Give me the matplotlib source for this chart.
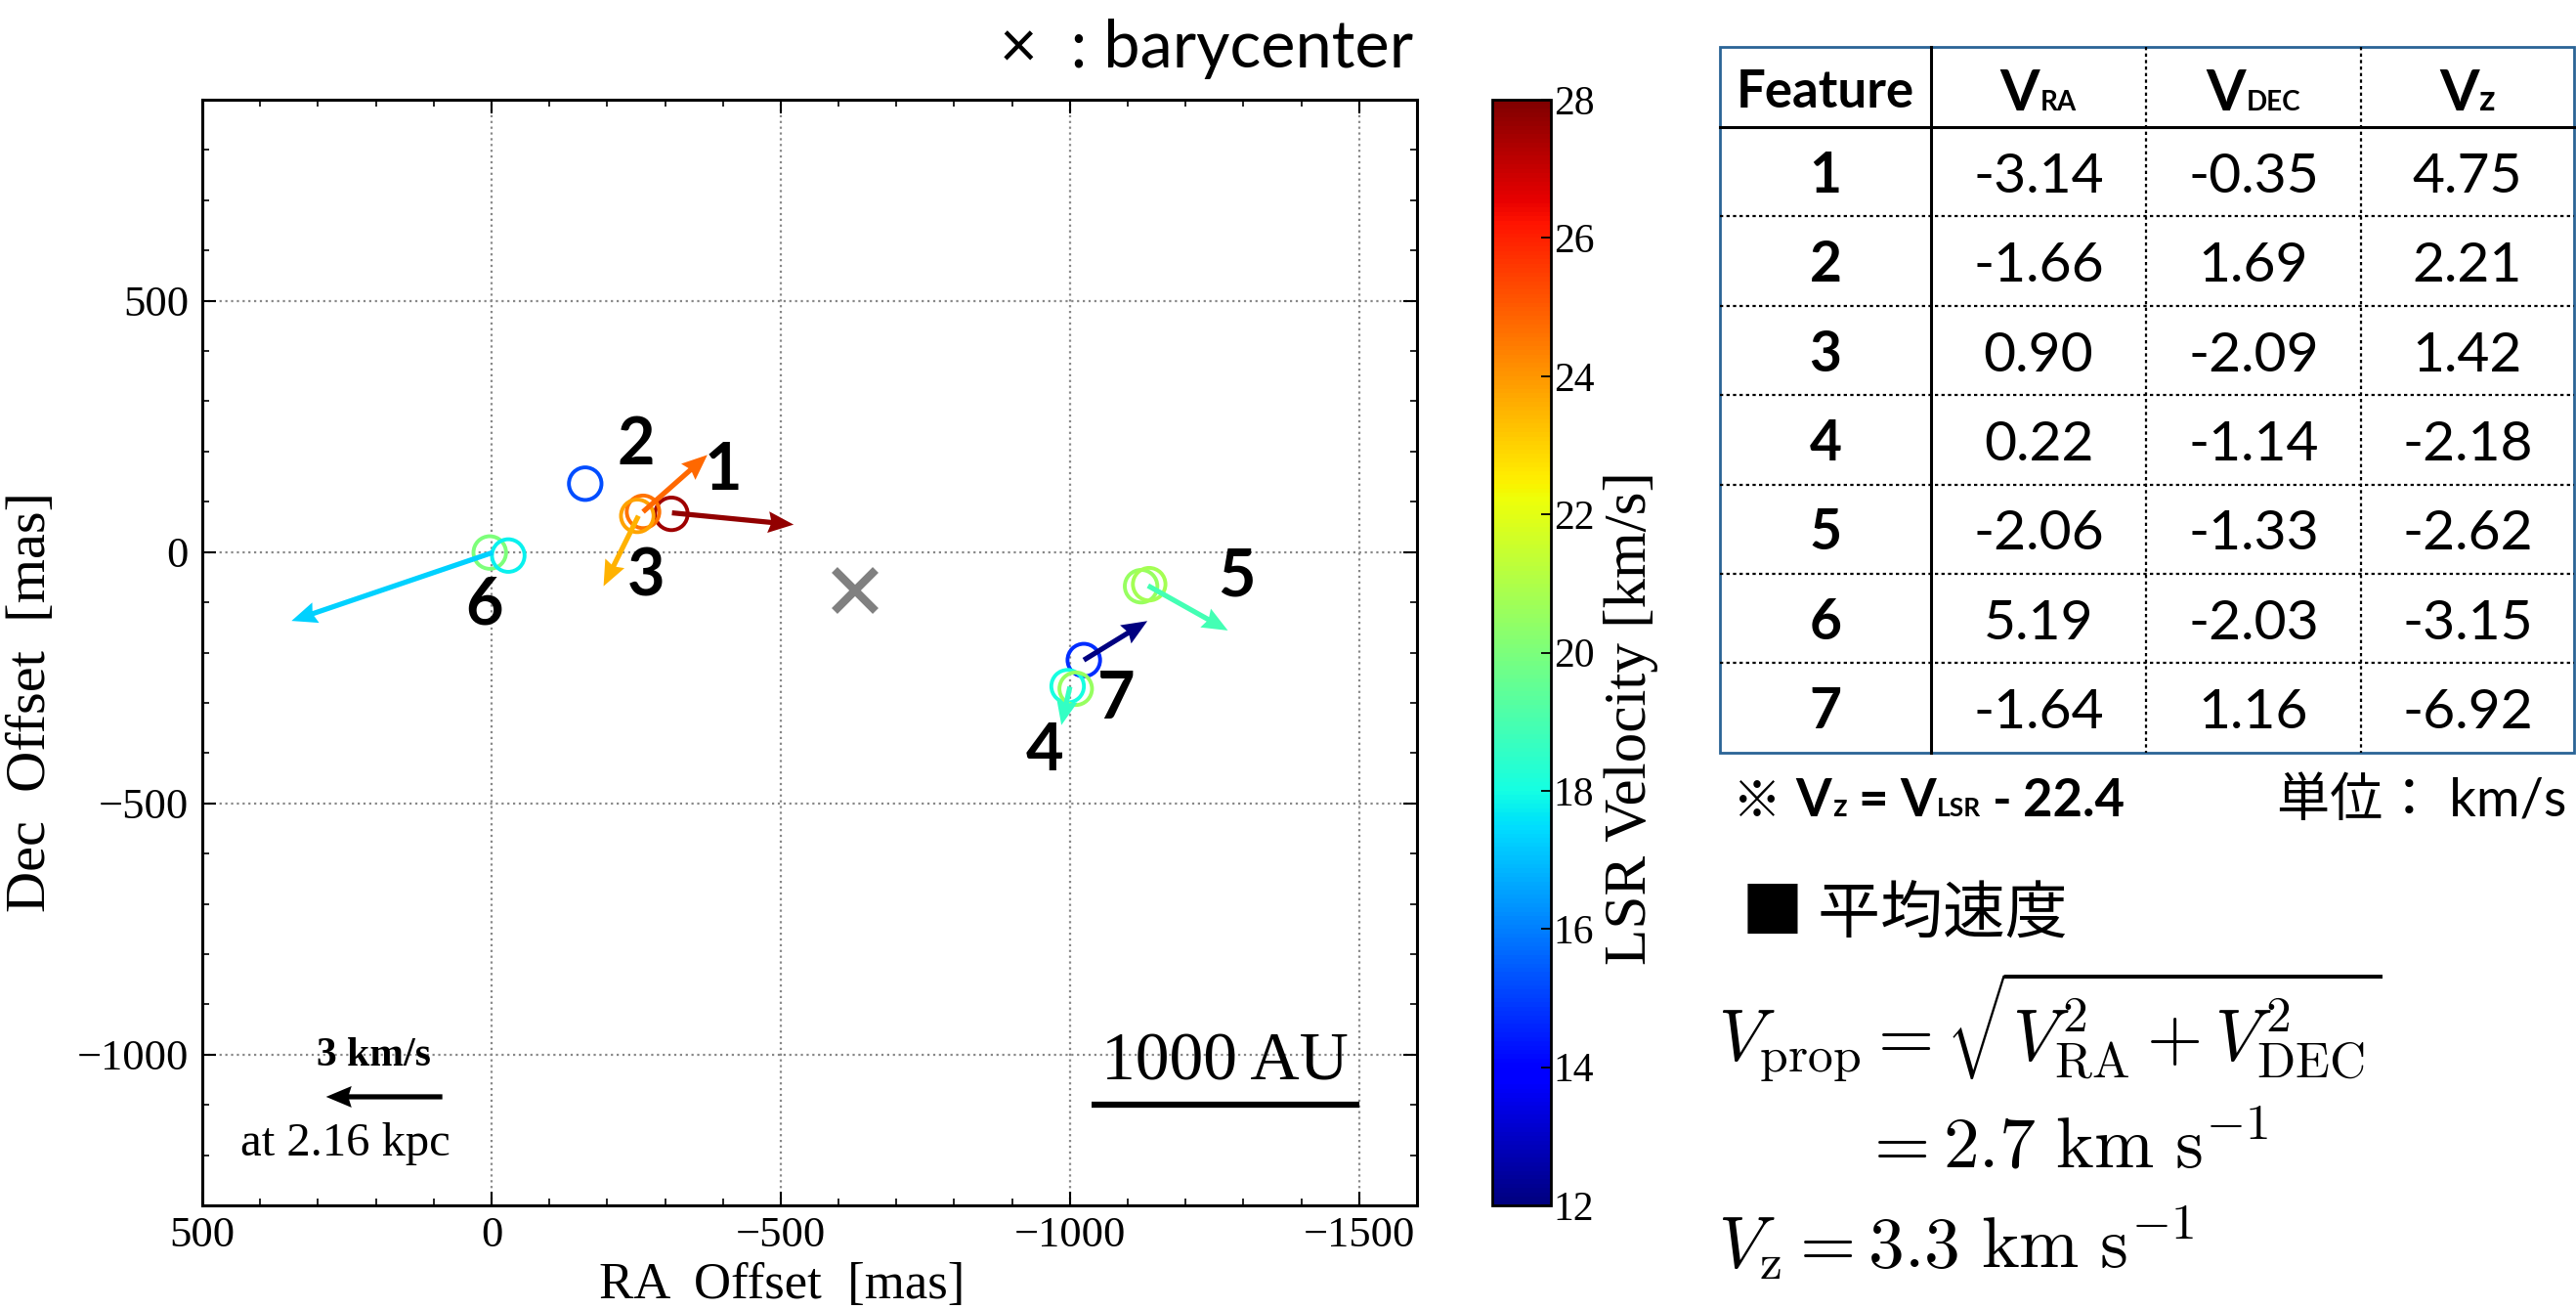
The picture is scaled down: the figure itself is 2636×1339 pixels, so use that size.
import matplotlib
matplotlib.use("Agg")
import matplotlib.pyplot as plt
from matplotlib.patches import Rectangle
from matplotlib.ticker import MultipleLocator
import numpy as np

SERIF = "Liberation Serif"
SANS = ["Lato", "Noto Sans CJK JP", "DejaVu Sans"]
CJK = ["Noto Sans CJK JP", "DejaVu Sans"]
plt.rcParams["font.family"] = SERIF

# proper motions of the features (km/s)
features = [1, 2, 3, 4, 5, 6, 7]
v_ra = [-3.14, -1.66, 0.90, 0.22, -2.06, 5.19, -1.64]
v_dec = [-0.35, 1.69, -2.09, -1.14, -1.33, -2.03, 1.16]
v_z = [4.75, 2.21, 1.42, -2.18, -2.62, -3.15, -6.92]

# arrow origins (mas) and LSR velocity used for the arrow colour
arrow_ra = [-312, -262, -254, -1000, -1135, -2, -1024]
arrow_dec = [78, 80, 72, -268, -67, -1, -215]
arrow_vlsr = [27.7, 24.8, 23.5, 18.6, 18.9, 17.3, 12.0]

# maser spots (open circles)
spot_ra = [-311, -262, -252, -162, 3, -29, -1123, -1137, -1024, -996, -1010]
spot_dec = [76, 80, 72, 136, -1, -7, -68, -64, -215, -267, -272]
spot_vlsr = [27.5, 24.6, 23.8, 15.2, 20.0, 17.8, 20.5, 20.8, 14.7, 18.0, 20.5]

# feature number labels
label_ra = [-400, -250, -268, -957, -1288, 12, -1080]
label_dec = [160, 212, -50, -398, -50, -106, -295]

bary_ra, bary_dec = -629, -76
scale_kms = 3
dist_kpc = 2.16
v_mean_prop = 2.7
v_mean_z = 3.3
vz_offset = 22.4

vmin, vmax = 12, 28
MAS_PER_KMS = 67  # arrow length per km/s

W, H = 2636, 1339
fig = plt.figure(figsize=(W / 100, H / 100), dpi=100)

# overlay in pixel coordinates for the table and the notes
ov = fig.add_axes([0, 0, 1, 1])
ov.set_xlim(0, W)
ov.set_ylim(H, 0)
ov.axis("off")

ax = fig.add_axes([207 / W, 106 / H, 1243 / W, 1131 / H])
cmap = plt.get_cmap("jet")
norm = plt.Normalize(vmin, vmax)

ax.scatter(spot_ra, spot_dec, s=24 ** 2, facecolors="none",
           edgecolors=cmap(norm(spot_vlsr)), linewidths=2.8, zorder=3)
ax.quiver(arrow_ra, arrow_dec,
          np.array(v_ra) * MAS_PER_KMS, np.array(v_dec) * MAS_PER_KMS,
          color=cmap(norm(arrow_vlsr)), angles="xy", scale_units="xy", scale=1,
          width=0.0042, headwidth=4.2, headlength=5, headaxislength=4.5, zorder=4)
ax.plot(bary_ra, bary_dec, marker="x", ms=30, mew=6, color="#808080", zorder=4)

for f, lx, ly in zip(features, label_ra, label_dec):
    ax.text(lx, ly, str(f), fontsize=48, fontweight="bold", family=SANS,
            ha="center", va="center", zorder=5)

# velocity scale arrow
ax.quiver(85, -1084, scale_kms * MAS_PER_KMS, 0, color="k", angles="xy",
          scale_units="xy", scale=1, width=0.0042, headwidth=4.2,
          headlength=5, headaxislength=4.5, zorder=4)
ax.text(203, -1002, "%d km/s" % scale_kms, fontsize=30, fontweight="bold",
        ha="center", va="center")
ax.text(253, -1177, "at %.2f kpc" % dist_kpc, fontsize=35, ha="center", va="center")

# 1000 AU scale bar
au_mas = 1000 / dist_kpc
ax.plot([-1037, -1037 - au_mas], [-1100, -1100], color="k", lw=4.5,
        solid_capstyle="butt")
ax.text(-1037 - au_mas / 2, -1050, "1000 AU", fontsize=50, ha="center", va="baseline")

ax.set_xlim(500, -1600)
ax.set_ylim(-1300, 900)
ax.set_xticks([500, 0, -500, -1000, -1500])
ax.set_yticks([-1000, -500, 0, 500])
ax.xaxis.set_minor_locator(MultipleLocator(100))
ax.yaxis.set_minor_locator(MultipleLocator(100))
ax.tick_params(which="both", direction="in", top=True, right=True, labelsize=32)
ax.tick_params(which="major", length=10, width=1.5)
ax.tick_params(which="minor", length=5, width=1.2)
ax.tick_params(axis="x", pad=8)
ax.tick_params(axis="y", pad=10)
ax.grid(True, which="major", color="#888888", ls=":", lw=1.6)
for sp in ax.spines.values():
    sp.set_linewidth(2.2)

ov.text(800, 1315, "RA  Offset  [mas]", fontsize=38, ha="center", va="center")
ov.text(32, 718, "Dec  Offset  [mas]", fontsize=42, rotation=90, ha="center", va="center")

# colorbar
cax = fig.add_axes([1527 / W, 106 / H, 60 / W, 1131 / H])
sm = plt.cm.ScalarMappable(norm=norm, cmap=cmap)
cb = fig.colorbar(sm, cax=cax, ticks=range(vmin, vmax + 1, 2))
cb.outline.set_linewidth(2)
cax.tick_params(direction="in", length=7, width=1.3, labelsize=30, pad=2)
ov.text(1669, 735, "LSR Velocity [km/s]", fontsize=44, rotation=90,
        ha="center", va="center")

ov.text(1446, 69, "×  : barycenter", ha="right", va="baseline", fontsize=48, family=SANS)

# ---- table ----
renderer = fig.canvas.get_renderer()


def draw_runs(x, y, runs, ha="left"):
    # runs: (text, fontsize, weight, gap in px before the piece)
    widths = []
    for s, fs, wt, gap in runs:
        t = ov.text(0, 0, s, fontsize=fs, fontweight=wt, family=SANS)
        widths.append(t.get_window_extent(renderer).width)
        t.remove()
    total = sum(widths) + sum(r[3] for r in runs)
    if ha == "center":
        x -= total / 2
    elif ha == "right":
        x -= total
    for (s, fs, wt, gap), w in zip(runs, widths):
        x += gap
        ov.text(x, y, s, fontsize=fs, fontweight=wt, family=SANS,
                ha="left", va="baseline")
        x += w


col_edges = [1760, 1976, 2196, 2416, 2634]
t_top, head_bot, row_h = 48, 130, 91.4
t_bot = head_bot + len(features) * row_h
centers = [(a + b) / 2 for a, b in zip(col_edges[:-1], col_edges[1:])]

ov.add_patch(Rectangle((col_edges[0], t_top), col_edges[-1] - col_edges[0],
                       t_bot - t_top, fill=False, ec="#2a6496", lw=2))
ov.plot([col_edges[0], col_edges[-1]], [head_bot, head_bot], color="k", lw=2.2)
ov.plot([col_edges[1]] * 2, [t_top, t_bot], color="k", lw=2.2)
for xe in col_edges[2:-1]:
    ov.plot([xe, xe], [t_top, t_bot], color="k", lw=1.6, ls=(0, (1.5, 1.5)))
for i in range(1, len(features)):
    yy = head_bot + i * row_h
    ov.plot([col_edges[0], col_edges[-1]], [yy, yy], color="k", lw=1.6,
            ls=(0, (1.5, 1.5)))

ov.text(centers[0], 110, "Feature", fontsize=38, fontweight="bold", family=SANS,
        ha="center", va="baseline")
for cx, sub, ssize in zip(centers[1:], ["RA", "DEC", "z"], [20, 20, 26]):
    draw_runs(cx, 113, [("V", 42, "bold", 0), (sub, ssize, "bold", 1)], ha="center")

for i, f in enumerate(features):
    yb = head_bot + (i + 0.5) * row_h + 21
    ov.text(centers[0], yb, str(f), fontsize=41, fontweight="bold", family=SANS,
            ha="center", va="baseline")
    for cx, val in zip(centers[1:], [v_ra[i], v_dec[i], v_z[i]]):
        ov.text(cx, yb, "%.2f" % val, fontsize=41, family=SANS,
                ha="center", va="baseline")

draw_runs(1773, 835, [("※", 36, "bold", 0), ("V", 38, "bold", 14),
                      ("z", 23, "bold", 1), ("=", 38, "bold", 12),
                      ("V", 38, "bold", 12), ("LSR", 19, "bold", 1),
                      ("-", 38, "bold", 12), ("%.1f" % vz_offset, 38, "bold", 12)])
ov.text(2626, 835, "単位： km/s", ha="right", va="baseline", fontsize=39, family=SANS)

ov.text(1782, 936, "■ 平均速度", family=CJK, fontsize=46, va="center")
ov.text(1758, 1050, r"$V_{\mathrm{prop}} = \sqrt{V_{\mathrm{RA}}^2 + V_{\mathrm{DEC}}^2}$",
        fontsize=53, math_fontfamily="cm", va="center")
ov.text(1905, 1176, r"$= %.1f\ \mathrm{km\ s^{-1}}$" % v_mean_prop,
        fontsize=53, math_fontfamily="cm", va="center")
ov.text(1758, 1273, r"$V_{\mathrm{z}} = %.1f\ \mathrm{km\ s^{-1}}$" % v_mean_z,
        fontsize=53, math_fontfamily="cm", va="center")

fig.savefig("out.png", dpi=100)
